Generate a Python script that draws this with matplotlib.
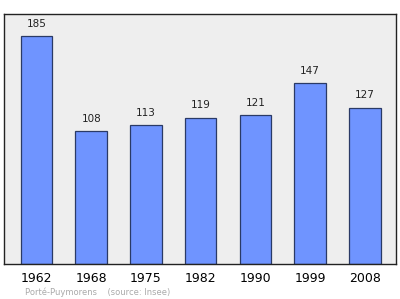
import matplotlib
matplotlib.use("Agg")
import matplotlib.pyplot as plt

years = ["1962", "1968", "1975", "1982", "1990", "1999", "2008"]
population = [185, 108, 113, 119, 121, 147, 127]
commune = "Porté-Puymorens"
source = "(source: Insee)"

fig = plt.figure(figsize=(4.0, 2.99), dpi=100)
W, H = 400, 299
ax = fig.add_axes([4 / W, 1 - 264 / H, 392 / W, (264 - 13.5) / H])
ax.set_facecolor("#eeeeee")

x = range(len(years))
ax.bar(x, population, width=0.576, color="#6f94ff", edgecolor="#2a3a66", linewidth=0.9, zorder=2)
for i, v in enumerate(population):
    ax.text(i, v + 6, str(v), ha="center", va="bottom", fontsize=7.5, color="#222222")

ax.set_xlim(-0.594, 6.57)
ax.set_ylim(0, 203.5)
ax.set_yticks([])
ax.set_xticks(list(x))
ax.set_xticklabels(years, fontsize=9)
ax.tick_params(axis="x", length=0, pad=6)
for s in ax.spines.values():
    s.set_linewidth(1.0)
    s.set_color("#222222")

fig.text(25 / W, 1 - 292 / H, commune + "    " + source, fontsize=6, color="#aaaaaa", va="center")

fig.savefig("out.png", dpi=100)
